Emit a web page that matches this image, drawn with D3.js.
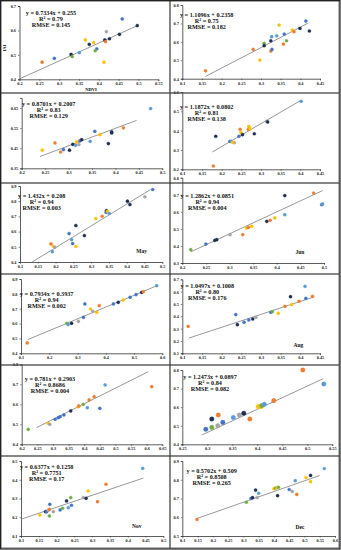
<!DOCTYPE html>
<html><head><meta charset="utf-8">
<script src="https://cdn.jsdelivr.net/npm/d3@7"></script>
<style>html,body{margin:0;padding:0;background:#fff}svg{display:block}</style>
</head><body>
<script>
// ---------- DATA ----------
const months = ["", "", "", "", "May", "Jun", "", "Aug", "", "", "Nov", "Dec"];
const xDomains = [[0.2,0.55],[0.1,0.45],[0.2,0.5],[0.1,0.45],[0.1,0.5],[0.2,0.5],[0.1,0.6],[0.1,0.45],[0.2,0.65],[0.25,0.55],[0.1,0.5],[0.1,0.6]];
const yDomains = [[0.4,0.7],[0.4,0.8],[0.35,0.7],[0.2,0.6],[0.4,0.9],[0.3,0.8],[0.4,0.9],[0.1,0.7],[0.4,0.8],[0.4,0.8],[0.1,0.5],[0.5,0.9]];
const xSteps = [0.05,0.05,0.05,0.05,0.05,0.05,0.1,0.05,0.05,0.05,0.05,0.05];
const ySteps = [0.1,0.1,0.1,0.1,0.1,0.1,0.1,0.1,0.1,0.1,0.1,0.1];
const slopes = [0.7334,1.1096,0.8701,1.1872,1.432,1.2862,0.7934,1.0497,0.781,1.2473,0.6377,0.5702];
const intercepts = [0.255,0.2358,0.2007,0.0802,0.208,0.0851,0.3937,0.1008,0.2903,0.0897,0.1258,0.509];
const lineRanges = [[0.2,0.497],[0.159,0.42],[0.239,0.445],[0.176,0.402],[0.134,0.467],[0.218,0.497],[0.124,0.58],[0.117,0.433],[0.248,0.605],[0.289,0.532],[0.1,0.444],[0.146,0.55]];
const eqTexts = ["y = 0.7334x + 0.255","y = 1.1096x + 0.2358","y = 0.8701x + 0.2007","y = 1.1872x + 0.0802","y = 1.432x + 0.208","y = 1.2862x + 0.0851","y = 0.7934x + 0.3937","y = 1.0497x + 0.1008","y = 0.781x + 0.2903","y = 1.2473x + 0.0897","y = 0.6377x + 0.1258","y = 0.5702x + 0.509"];
const r2Texts = ["R² = 0.79","R² = 0.75","R² = 0.83","R² = 0.81","R² = 0.94","R² = 0.94","R² = 0.94","R² = 0.80","R² = 0.8686","R² = 0.84","R² = 0.7751","R² = 0.8508"];
const rmseTexts = ["RMSE = 0.145","RMSE = 0.182","RMSE = 0.129","RMSE = 0.138","RMSE = 0.003","RMSE = 0.004","RMSE = 0.002","RMSE = 0.176","RMSE = 0.004","RMSE = 0.082","RMSE = 0.17","RMSE = 0.265"];
const xAxisTitle = "NDVI";
const yAxisTitle = "fAI";
// series codes: k dark, b blue, o orange, y yellow, g gray, l light blue, n green
const p1x = [0.257,0.288,0.330,0.333,0.351,0.366,0.376,0.387,0.395,0.391,0.413,0.415,0.417,0.427,0.419,0.452,0.459,0.497];
const p1y = [0.470,0.486,0.502,0.493,0.509,0.561,0.543,0.550,0.525,0.517,0.470,0.561,0.554,0.566,0.595,0.584,0.647,0.620];
const p1s = "obknlykybnykokgkbk";
const p2x = [0.159,0.280,0.297,0.308,0.308,0.327,0.325,0.325,0.328,0.346,0.340,0.359,0.357,0.365,0.380,0.384,0.399,0.414,0.423];
const p2y = [0.443,0.559,0.501,0.592,0.579,0.628,0.606,0.550,0.559,0.691,0.633,0.642,0.588,0.606,0.664,0.655,0.673,0.713,0.659];
const p2s = "ooynklkobylbonyokbk";
const p3x = [0.244,0.271,0.283,0.289,0.302,0.309,0.315,0.317,0.324,0.322,0.328,0.346,0.356,0.367,0.385,0.392,0.392,0.417,0.475];
const p3y = [0.440,0.476,0.431,0.443,0.440,0.469,0.464,0.481,0.486,0.468,0.493,0.484,0.534,0.517,0.473,0.526,0.531,0.551,0.647];
const p3s = "yoobkklybgklbykkkol";
const p4x = [0.179,0.185,0.221,0.225,0.232,0.228,0.247,0.249,0.244,0.253,0.269,0.268,0.272,0.283,0.314,0.317,0.402];
const p4y = [0.217,0.371,0.345,0.345,0.338,0.340,0.407,0.390,0.371,0.379,0.422,0.407,0.410,0.384,0.448,0.445,0.552];
const p4s = "okblgyoybkyoykgkl";
const p5x = [0.187,0.194,0.198,0.191,0.238,0.245,0.248,0.257,0.257,0.281,0.313,0.331,0.343,0.342,0.346,0.351,0.402,0.409,0.451,0.473];
const p5y = [0.519,0.503,0.497,0.468,0.587,0.547,0.521,0.503,0.640,0.574,0.686,0.701,0.738,0.727,0.734,0.719,0.800,0.778,0.829,0.877];
const p5s = "oyglblbykkyokbylkkgb";
const p6x = [0.218,0.250,0.269,0.273,0.301,0.328,0.336,0.340,0.347,0.379,0.386,0.396,0.417,0.417,0.478,0.495,0.497];
const p6y = [0.378,0.411,0.433,0.437,0.466,0.466,0.505,0.509,0.515,0.544,0.550,0.564,0.583,0.695,0.710,0.642,0.646];
const p6s = "nbkkgoyoykoylkobl";
const p7x = [0.122,0.262,0.267,0.279,0.303,0.321,0.326,0.346,0.354,0.368,0.377,0.427,0.444,0.462,0.486,0.507,0.527,0.533,0.580];
const p7y = [0.470,0.602,0.593,0.602,0.615,0.642,0.732,0.698,0.683,0.676,0.721,0.732,0.743,0.759,0.777,0.795,0.810,0.815,0.855];
const p7s = "onlkgbbygyobkybbkol";
const p8x = [0.115,0.236,0.240,0.257,0.269,0.279,0.287,0.325,0.329,0.344,0.361,0.375,0.378,0.397,0.414,0.412,0.431];
const p8y = [0.319,0.414,0.332,0.351,0.370,0.378,0.392,0.432,0.438,0.424,0.481,0.559,0.495,0.522,0.546,0.643,0.562];
const p8s = "obkbbkgbnyokyoblo";
const p9x = [0.221,0.285,0.290,0.307,0.317,0.323,0.335,0.357,0.381,0.383,0.397,0.410,0.416,0.432,0.450,0.467,0.616];
const p9y = [0.475,0.505,0.500,0.525,0.533,0.538,0.547,0.567,0.588,0.592,0.600,0.583,0.622,0.638,0.580,0.697,0.688];
const p9s = "nygbbbbkyonlooblo";
const p10x = [0.297,0.309,0.309,0.321,0.322,0.331,0.352,0.364,0.373,0.385,0.402,0.407,0.409,0.414,0.433,0.491,0.533];
const p10y = [0.481,0.491,0.536,0.500,0.558,0.518,0.544,0.558,0.567,0.536,0.603,0.603,0.608,0.615,0.635,0.800,0.725];
const p10s = "bnkgoblgkoyynlool";
const p11x = [0.153,0.169,0.172,0.177,0.180,0.180,0.181,0.191,0.210,0.217,0.228,0.233,0.242,0.240,0.275,0.283,0.289,0.315,0.339,0.442];
const p11y = [0.212,0.230,0.230,0.237,0.242,0.207,0.269,0.230,0.239,0.248,0.287,0.251,0.264,0.305,0.305,0.301,0.340,0.283,0.376,0.461];
const p11s = "ykbgonbgbnklbngkyool";
const p12x = [0.148,0.310,0.325,0.330,0.340,0.345,0.350,0.400,0.405,0.410,0.412,0.415,0.450,0.460,0.470,0.475,0.505,0.520,0.520,0.565];
const p12y = [0.588,0.680,0.700,0.705,0.745,0.705,0.728,0.752,0.756,0.758,0.715,0.760,0.748,0.738,0.795,0.722,0.812,0.823,0.790,0.860];
const p12s = "onbkkglynyknbgloykyl";
const panelX = [p1x,p2x,p3x,p4x,p5x,p6x,p7x,p8x,p9x,p10x,p11x,p12x];
const panelY = [p1y,p2y,p3y,p4y,p5y,p6y,p7y,p8y,p9y,p10y,p11y,p12y];
const panelS = [p1s,p2s,p3s,p4s,p5s,p6s,p7s,p8s,p9s,p10s,p11s,p12s];

// ---------- LAYOUT (pixels) ----------
const layout = [
  {x:[19.5,158.3], y:[79.3,6],    eq:[51,13.3], mon:null},
  {x:[182.3,320],  y:[78.7,5],    eq:[206.7,15]},
  {x:[21.7,162.3], y:[168.3,97.9],eq:[48.7,104.3]},
  {x:[182.3,320],  y:[169.3,92],  eq:[206.7,107]},
  {x:[20,162.3],   y:[262,186],   eq:[41.7,196.3], mon:[141.7,251.3]},
  {x:[182.3,324],  y:[263,177.7], eq:[207.3,195.7], mon:[300,252.3]},
  {x:[21,162.3],   y:[353.3,279], eq:[46.7,294]},
  {x:[182.3,320],  y:[353.3,279.3],eq:[207.3,285.7], mon:[298.3,344.7]},
  {x:[21.7,162.3], y:[444.3,364.3],eq:[50,379]},
  {x:[182.3,332.3],y:[444.3,370], eq:[210,377.3]},
  {x:[21,163.3],   y:[536,461],   eq:[46.7,466.7], mon:[136.7,526]},
  {x:[182.3,335],  y:[536,461],   eq:[211.7,471], mon:[300,527]}
];
const W = 341, H = 550;
const color = d3.scaleOrdinal()
  .domain(["k","b","o","y","g","l","n"])
  .range(["#1f2d50","#4472c4","#ed7d31","#ffc000","#a5a5a5","#5b9bd5","#70ad47"]);
const font = "'Liberation Serif','Times New Roman',serif";

const svg = d3.select("body").append("svg").attr("width", W).attr("height", H);
svg.append("rect").attr("width", W).attr("height", H).attr("fill", "#fff");

function ticks(dom, step){
  const out = [];
  for (let v = dom[0]; v <= dom[1] + 1e-9; v += step) out.push(+v.toFixed(3));
  return out;
}
const fmt = v => String(+v.toFixed(3));

layout.forEach((L, i) => {
  const x = d3.scaleLinear().domain(xDomains[i]).range(L.x);
  const y = d3.scaleLinear().domain(yDomains[i]).range(L.y);
  const g = svg.append("g");
  const xAxis = d3.axisBottom(x).tickValues(ticks(xDomains[i], xSteps[i])).tickFormat(fmt).tickSize(1.5).tickPadding(1.5);
  const yAxis = d3.axisLeft(y).tickValues(ticks(yDomains[i], ySteps[i])).tickFormat(fmt).tickSize(1.5).tickPadding(2);
  const gx = g.append("g").attr("transform", `translate(0,${L.y[0]})`).call(xAxis);
  const gy = g.append("g").attr("transform", `translate(${L.x[0]},0)`).call(yAxis);
  [gx, gy].forEach(a => {
    a.select(".domain").attr("stroke", "#333").attr("stroke-width", 0.8);
    a.selectAll(".tick line").attr("stroke", "#333").attr("stroke-width", 0.6);
    a.selectAll("text").attr("font-family", font).attr("font-weight", "bold").attr("font-size", 4.3).attr("fill", "#222");
  });
  // trend line
  const lr = lineRanges[i];
  g.append("line")
    .attr("x1", x(lr[0])).attr("y1", y(slopes[i]*lr[0] + intercepts[i]))
    .attr("x2", x(lr[1])).attr("y2", y(slopes[i]*lr[1] + intercepts[i]))
    .attr("stroke", "#7f7f7f").attr("stroke-width", 0.8);
  // points
  const pts = panelX[i].map((v, j) => ({x: v, y: panelY[i][j], s: panelS[i][j]}));
  g.selectAll("circle").data(pts).enter().append("circle")
    .attr("cx", d => x(d.x)).attr("cy", d => y(d.y))
    .attr("r", i === 9 ? 2.3 : 1.6)
    .attr("fill", d => color(d.s)).attr("stroke", d => color(d.s)).attr("stroke-width", 0.3);
  // equation block
  const t = g.append("text").attr("font-family", font).attr("font-weight", "bold")
    .attr("font-size", 6.2).attr("fill", "#111").attr("text-anchor", "middle");
  [eqTexts[i], r2Texts[i], rmseTexts[i]].forEach((s, k) => {
    t.append("tspan").attr("x", L.eq[0]).attr("y", L.eq[1] + 2 + k*6).text(s);
  });
  if (L.mon && months[i]) {
    g.append("text").attr("x", L.mon[0]).attr("y", L.mon[1] + 2)
      .attr("font-family", font).attr("font-weight", "bold").attr("font-size", 5.5)
      .attr("text-anchor", "middle").attr("fill", "#111").text(months[i]);
  }
  if (i === 0) {
    g.append("text").attr("x", 91).attr("y", 90.5).attr("text-anchor", "middle")
      .attr("font-family", font).attr("font-weight", "bold").attr("font-size", 4.5).text(xAxisTitle);
    g.append("text").attr("transform", "translate(6,48) rotate(-90)").attr("text-anchor", "middle")
      .attr("font-family", font).attr("font-weight", "bold").attr("font-size", 4.5).text(yAxisTitle);
  }
});

// panel frames
const rowsY = [1, 93, 183, 274, 365, 456, 548];
const colsX = [1, 170, 339];
const frame = svg.append("g").attr("fill", "none").attr("stroke", "#444").attr("stroke-width", 0.8);
for (let r = 0; r < 6; r++) for (let c = 0; c < 2; c++) {
  frame.append("rect").attr("x", colsX[c]).attr("y", rowsY[r])
    .attr("width", colsX[c+1]-colsX[c]).attr("height", rowsY[r+1]-rowsY[r]);
}
svg.append("rect").attr("x", 0.5).attr("y", 0.5).attr("width", 339.5).attr("height", 548.5)
  .attr("fill", "none").attr("stroke", "#222").attr("stroke-width", 1.2);
</script>
</body></html>
